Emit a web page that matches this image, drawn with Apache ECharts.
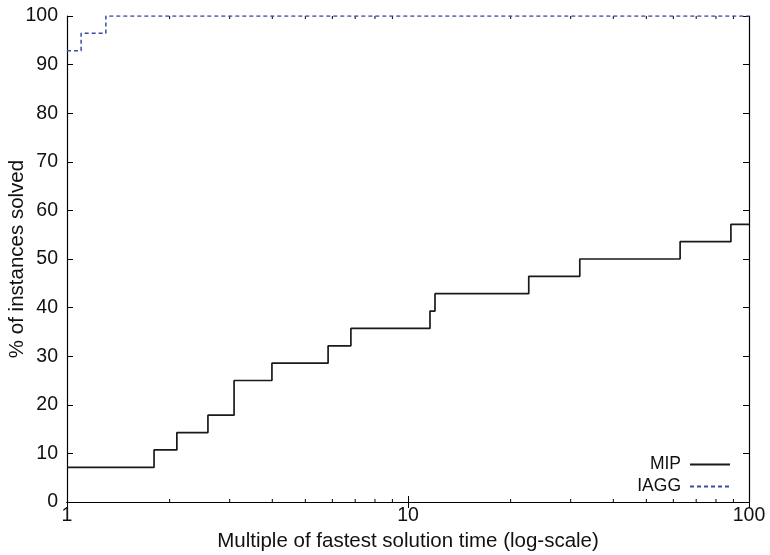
<!DOCTYPE html>
<html>
<head>
<meta charset="utf-8">
<script src="https://cdn.jsdelivr.net/npm/echarts@6/dist/echarts.min.js"></script>
<style>
  html, body { margin: 0; padding: 0; background: #fff; }
  #chart { width: 770px; height: 555px; }
</style>
</head>
<body>
<div id="chart"></div>
<script>
// Performance profile: share of instances solved within a multiple of the fastest time
const seriesNames = ['MIP', 'IAGG'];

// MIP: step points (time multiple where the share rises, new share in %)
const mipTimes = [1, 1.80, 2.10, 2.59, 3.09, 3.99, 5.83, 6.80, 11.6, 12.0, 22.6, 31.9, 62.8, 88.5, 100];
const mipSolved = [7.14, 10.71, 14.29, 17.86, 25.00, 28.57, 32.14, 35.71, 39.29, 42.86, 46.43, 50.00, 53.57, 57.14, 57.14];

// IAGG
const iaggTimes = [1, 1.10, 1.30, 100];
const iaggSolved = [92.86, 96.43, 100, 100];

// Axis tick values
const xMajorTicks = [1, 10, 100];
const xMinorTicks = [2, 3, 4, 5, 6, 7, 8, 9, 20, 30, 40, 50, 60, 70, 80, 90];
const yTickStep = 10;

const FONT = 'Liberation Sans, Arial, Helvetica, sans-serif';

const pairs = (xs, ys) => xs.map((x, i) => [x, ys[i]]);

const chart = echarts.init(document.getElementById('chart'), null, { renderer: 'canvas' });

const frameLine = { show: true, lineStyle: { color: '#000', width: 1.2 } };
const inTick = { show: true, inside: true, length: 6, lineStyle: { color: '#000', width: 1 } };

chart.setOption({
  animation: false,
  backgroundColor: '#fff',
  grid: { left: 67, right: 21, top: 16, bottom: 53, containLabel: false, outerBoundsMode: 'none' },
  legend: {
    data: seriesNames,
    orient: 'vertical',
    align: 'right',
    right: 34,
    bottom: 53,
    itemWidth: 40,
    itemHeight: 14,
    itemGap: 1,
    itemStyle: { opacity: 0 },
    textStyle: { fontFamily: FONT, fontSize: 17.5, color: '#111', lineHeight: 21, padding: [0, 4, 0, 0] },
    selectedMode: false
  },
  xAxis: [
    {
      type: 'log', logBase: 10, min: 1, max: 100,
      position: 'bottom',
      name: 'Multiple of fastest solution time (log-scale)',
      nameLocation: 'middle', nameGap: 25,
      nameTextStyle: { fontFamily: FONT, fontSize: 20.5, color: '#111' },
      axisLine: frameLine,
      axisTick: inTick,
      axisLabel: {
        fontFamily: FONT, fontSize: 19.5, color: '#111', margin: 4,
        formatter: v => (xMajorTicks.indexOf(Math.round(v)) >= 0 ? String(Math.round(v)) : '')
      },
      splitLine: { show: false },
      minorTick: { show: false }
    },
    {
      type: 'log', logBase: 10, min: 1, max: 100,
      position: 'top',
      axisLine: frameLine,
      axisTick: inTick,
      axisLabel: { show: false },
      splitLine: { show: false }
    }
  ],
  yAxis: [
    {
      type: 'value', min: 0, max: 100, interval: yTickStep,
      position: 'left',
      name: '% of instances solved',
      nameLocation: 'middle', nameGap: 39, nameMoveOverlap: false,
      nameTextStyle: { fontFamily: FONT, fontSize: 20.5, color: '#111' },
      axisLine: frameLine,
      axisTick: inTick,
      axisLabel: { fontFamily: FONT, fontSize: 19.5, color: '#111', margin: 9 },
      splitLine: { show: false }
    },
    {
      type: 'value', min: 0, max: 100, interval: yTickStep,
      position: 'right',
      axisLine: frameLine,
      axisTick: inTick,
      axisLabel: { show: false },
      splitLine: { show: false }
    }
  ],
  series: [
    {
      name: 'MIP',
      type: 'line',
      step: 'end',
      xAxisIndex: 0, yAxisIndex: 0,
      data: pairs(mipTimes, mipSolved),
      symbol: 'none',
      lineStyle: { color: '#1a1a1a', width: 1.7 },
      itemStyle: { color: '#1a1a1a' },
      z: 3
    },
    {
      name: 'IAGG',
      type: 'line',
      step: 'end',
      xAxisIndex: 0, yAxisIndex: 0,
      data: pairs(iaggTimes, iaggSolved),
      symbol: 'none',
      lineStyle: { color: '#3a4ca6', width: 1.5, type: [4, 3] },
      itemStyle: { color: '#3a4ca6' },
      z: 4
    },
    {
      // minor log ticks at 2..9 and 20..90 on bottom and top frame edges
      type: 'custom',
      xAxisIndex: 0, yAxisIndex: 0,
      silent: true,
      data: xMinorTicks.map(v => [v, 0]),
      encode: { x: 0, y: 1 },
      renderItem: (params, api) => {
        const x = api.coord([api.value(0), 0])[0];
        const cs = params.coordSys;
        const yb = cs.y + cs.height;
        const yt = cs.y;
        const st = { stroke: '#000', lineWidth: 1 };
        return {
          type: 'group',
          children: [
            { type: 'line', shape: { x1: x, y1: yb, x2: x, y2: yb - 3 }, style: st },
            { type: 'line', shape: { x1: x, y1: yt, x2: x, y2: yt + 3 }, style: st }
          ]
        };
      },
      z: 2
    }
  ]
});
</script>
</body>
</html>
